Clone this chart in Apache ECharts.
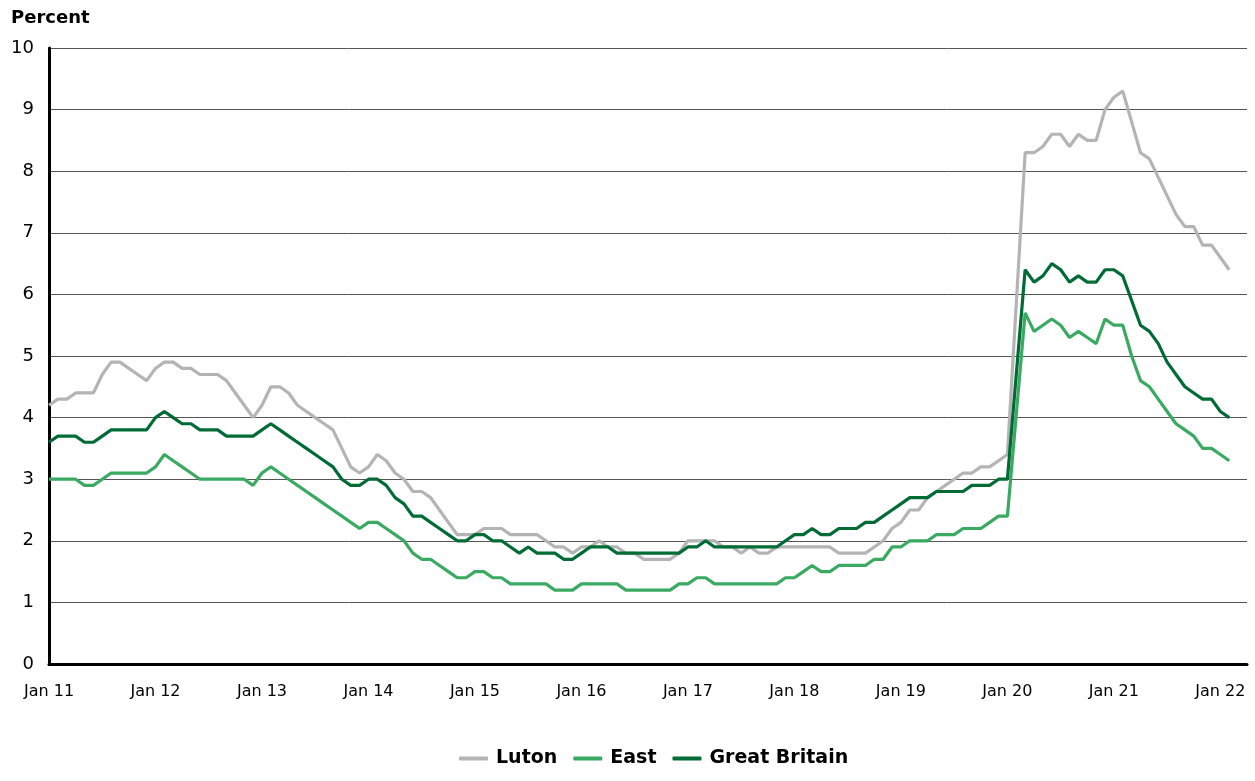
<!DOCTYPE html>
<html>
<head>
<meta charset="utf-8">
<script src="https://cdn.jsdelivr.net/npm/echarts@6/dist/echarts.min.js"></script>
<style>
html,body{margin:0;padding:0;background:#ffffff;}
#chart{width:1255px;height:781px;}
</style>
</head>
<body>
<div id="chart"></div>
<script>
// ---- Data (claimant rate, percent), monthly from Jan 2011 ----
const monthNames = ['Jan','Feb','Mar','Apr','May','Jun','Jul','Aug','Sep','Oct','Nov','Dec'];
const startYear = 2011;
const axisMonths = 136; // Jan 2011 .. Apr 2022 (axis extent)

const luton = [
  4.2,4.3,4.3,4.4,4.4,4.4,4.7,4.9,4.9,4.8,4.7,4.6,
  4.8,4.9,4.9,4.8,4.8,4.7,4.7,4.7,4.6,4.4,4.2,4.0,
  4.2,4.5,4.5,4.4,4.2,4.1,4.0,3.9,3.8,3.5,3.2,3.1,
  3.2,3.4,3.3,3.1,3.0,2.8,2.8,2.7,2.5,2.3,2.1,2.1,
  2.1,2.2,2.2,2.2,2.1,2.1,2.1,2.1,2.0,1.9,1.9,1.8,
  1.9,1.9,2.0,1.9,1.9,1.8,1.8,1.7,1.7,1.7,1.7,1.8,
  2.0,2.0,2.0,2.0,1.9,1.9,1.8,1.9,1.8,1.8,1.9,1.9,
  1.9,1.9,1.9,1.9,1.9,1.8,1.8,1.8,1.8,1.9,2.0,2.2,
  2.3,2.5,2.5,2.7,2.8,2.9,3.0,3.1,3.1,3.2,3.2,3.3,
  3.4,null,8.3,8.3,8.4,8.6,8.6,8.4,8.6,8.5,8.5,9.0,
  9.2,9.3,8.8,8.3,8.2,7.9,7.6,7.3,7.1,7.1,6.8,6.8,
  6.6,6.4
];
const east = [
  3.0,3.0,3.0,3.0,2.9,2.9,3.0,3.1,3.1,3.1,3.1,3.1,
  3.2,3.4,3.3,3.2,3.1,3.0,3.0,3.0,3.0,3.0,3.0,2.9,
  3.1,3.2,3.1,3.0,2.9,2.8,2.7,2.6,2.5,2.4,2.3,2.2,
  2.3,2.3,2.2,2.1,2.0,1.8,1.7,1.7,1.6,1.5,1.4,1.4,
  1.5,1.5,1.4,1.4,1.3,1.3,1.3,1.3,1.3,1.2,1.2,1.2,
  1.3,1.3,1.3,1.3,1.3,1.2,1.2,1.2,1.2,1.2,1.2,1.3,
  1.3,1.4,1.4,1.3,1.3,1.3,1.3,1.3,1.3,1.3,1.3,1.4,
  1.4,1.5,1.6,1.5,1.5,1.6,1.6,1.6,1.6,1.7,1.7,1.9,
  1.9,2.0,2.0,2.0,2.1,2.1,2.1,2.2,2.2,2.2,2.3,2.4,
  2.4,null,5.7,5.4,5.5,5.6,5.5,5.3,5.4,5.3,5.2,5.6,
  5.5,5.5,5.0,4.6,4.5,4.3,4.1,3.9,3.8,3.7,3.5,3.5,
  3.4,3.3
];
const greatBritain = [
  3.6,3.7,3.7,3.7,3.6,3.6,3.7,3.8,3.8,3.8,3.8,3.8,
  4.0,4.1,4.0,3.9,3.9,3.8,3.8,3.8,3.7,3.7,3.7,3.7,
  3.8,3.9,3.8,3.7,3.6,3.5,3.4,3.3,3.2,3.0,2.9,2.9,
  3.0,3.0,2.9,2.7,2.6,2.4,2.4,2.3,2.2,2.1,2.0,2.0,
  2.1,2.1,2.0,2.0,1.9,1.8,1.9,1.8,1.8,1.8,1.7,1.7,
  1.8,1.9,1.9,1.9,1.8,1.8,1.8,1.8,1.8,1.8,1.8,1.8,
  1.9,1.9,2.0,1.9,1.9,1.9,1.9,1.9,1.9,1.9,1.9,2.0,
  2.1,2.1,2.2,2.1,2.1,2.2,2.2,2.2,2.3,2.3,2.4,2.5,
  2.6,2.7,2.7,2.7,2.8,2.8,2.8,2.8,2.9,2.9,2.9,3.0,
  3.0,null,6.4,6.2,6.3,6.5,6.4,6.2,6.3,6.2,6.2,6.4,
  6.4,6.3,5.9,5.5,5.4,5.2,4.9,4.7,4.5,4.4,4.3,4.3,
  4.1,4.0
];
const seriesNames = ['Luton','East','Great Britain'];
const yTicks = {min:0, max:10, interval:1};

// ---- Build category labels ----
const categories = [];
for (let k = 0; k < axisMonths; k++) {
  const yr = startYear + Math.floor(k / 12);
  categories.push(monthNames[k % 12] + ' ' + String(yr).slice(2));
}

const FONT = '"DejaVu Sans", "Noto Sans", sans-serif';
const colors = ['#b4b4b4', '#3aaa62', '#016b35'];

const chart = echarts.init(document.getElementById('chart'), null, {renderer:'canvas'});
chart.setOption({
  animation: false,
  backgroundColor: '#ffffff',
  title: {
    text: 'Percent',
    left: 11, top: 9, padding: 0,
    textStyle: {fontFamily: FONT, fontSize: 18, fontWeight: 'bold', color: '#000'}
  },
  grid: {left: 49, right: 8, top: 48, bottom: 117, containLabel: false},
  legend: {
    data: seriesNames,
    top: 749,
    left: 459,
    padding: 0,
    icon: 'roundRect',
    itemWidth: 29,
    itemHeight: 4,
    itemGap: 16,
    textStyle: {fontFamily: FONT, fontSize: 19, fontWeight: 'bold', color: '#000', padding: [0,0,0,3]}
  },
  xAxis: {
    type: 'category',
    data: categories,
    boundaryGap: false,
    axisLine: {show: true, onZero: false, lineStyle: {color: '#000', width: 3}},
    axisTick: {show: false},
    axisLabel: {interval: 11, margin: 20, fontFamily: FONT, fontSize: 16, color: '#000'},
    splitLine: {show: false}
  },
  yAxis: {
    type: 'value',
    min: yTicks.min, max: yTicks.max, interval: yTicks.interval,
    axisLine: {show: true, lineStyle: {color: '#000', width: 3}},
    axisTick: {show: false},
    axisLabel: {margin: 15, fontFamily: FONT, fontSize: 18, color: '#000'},
    splitLine: {show: true, lineStyle: {color: '#555', width: 1}}
  },
  series: [
    {name: seriesNames[0], type: 'line', data: luton, symbol: 'none', connectNulls: true,
     lineStyle: {color: colors[0], width: 3.2}, itemStyle: {color: colors[0]}, z: 2},
    {name: seriesNames[1], type: 'line', data: east, symbol: 'none', connectNulls: true,
     lineStyle: {color: colors[1], width: 3.2}, itemStyle: {color: colors[1]}, z: 3},
    {name: seriesNames[2], type: 'line', data: greatBritain, symbol: 'none', connectNulls: true,
     lineStyle: {color: colors[2], width: 3.2}, itemStyle: {color: colors[2]}, z: 4}
  ]
});
</script>
</body>
</html>
